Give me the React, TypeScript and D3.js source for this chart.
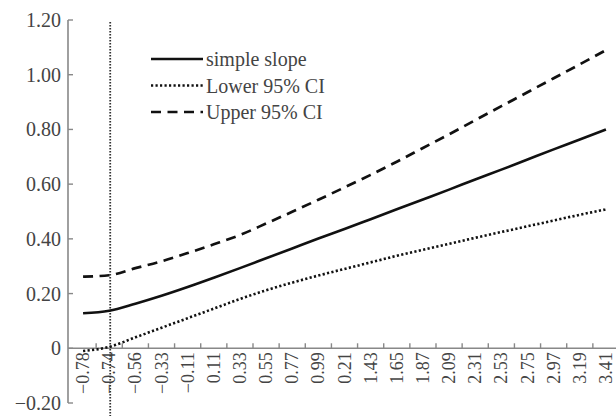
import React, { useEffect, useRef } from 'react';
import * as d3 from 'd3';

// moderator values (as printed on the x axis, "0.21" typo kept)
const categories = [
  '−0.78', '−0.74', '−0.56', '−0.33', '−0.11', '0.11', '0.33', '0.55', '0.77', '0.99',
  '0.21', '1.43', '1.65', '1.87', '2.09', '2.31', '2.53', '2.75', '2.97', '3.19', '3.41',
];
const simpleSlope = [
  0.128, 0.137, 0.163, 0.192, 0.224, 0.258, 0.293, 0.329, 0.365, 0.401, 0.436,
  0.472, 0.508, 0.544, 0.58, 0.617, 0.653, 0.69, 0.727, 0.763, 0.8,
];
const lowerCI = [
  -0.01, 0.005, 0.04, 0.075, 0.11, 0.145, 0.18, 0.212, 0.24, 0.266, 0.29,
  0.314, 0.338, 0.36, 0.382, 0.404, 0.425, 0.446, 0.467, 0.488, 0.508,
];
const upperCI = [
  0.262, 0.267, 0.293, 0.318, 0.348, 0.38, 0.414, 0.456, 0.499, 0.543, 0.588,
  0.634, 0.682, 0.732, 0.782, 0.834, 0.885, 0.936, 0.987, 1.038, 1.09,
];
const yTicks = [-0.2, 0, 0.2, 0.4, 0.6, 0.8, 1.0, 1.2];
const jnPoint = '−0.74';

const width = 616;
const height = 416;
const font = '"Liberation Serif", "DejaVu Serif", serif';
const textColor = '#444';
const axisColor = '#888';

const series = [
  { name: 'simple slope', values: simpleSlope, dash: null, w: 2.6 },
  { name: 'Lower 95% CI', values: lowerCI, dash: '2.2,2.3', w: 2.6 },
  { name: 'Upper 95% CI', values: upperCI, dash: '10,6.5', w: 2.7 },
];

const App = () => {
  const ref = useRef<SVGSVGElement>(null);

  useEffect(() => {
    const svg = d3.select(ref.current);
    svg.selectAll('*').remove();

    const x = d3.scaleBand().domain(categories).range([70, 619]).padding(0);
    const y = d3.scaleLinear().domain([-0.2, 1.2]).range([403, 20]);
    const cx = (c: string) => (x(c) as number) + x.bandwidth() / 2;

    // y axis
    const y0 = 68;
    svg.append('line')
      .attr('x1', y0).attr('x2', y0)
      .attr('y1', y(1.2)).attr('y2', y(-0.2))
      .attr('stroke', axisColor).attr('stroke-width', 1.6);
    svg.selectAll('.ytick')
      .data(yTicks)
      .enter()
      .append('line')
      .attr('x1', y0).attr('x2', y0 + 5)
      .attr('y1', d => y(d)).attr('y2', d => y(d))
      .attr('stroke', axisColor).attr('stroke-width', 1.4);
    svg.selectAll('.ylab')
      .data(yTicks)
      .enter()
      .append('text')
      .attr('x', 61)
      .attr('y', d => y(d))
      .attr('text-anchor', 'end')
      .attr('dominant-baseline', 'central')
      .attr('font-family', font)
      .attr('font-size', 20)
      .attr('fill', textColor)
      .text(d => (d === 0 ? '0' : d3.format('.2f')(d)));

    // x axis at zero
    svg.append('line')
      .attr('x1', y0).attr('x2', width)
      .attr('y1', y(0)).attr('y2', y(0))
      .attr('stroke', axisColor).attr('stroke-width', 1.6);
    svg.selectAll('.xtick')
      .data(categories.slice(1))
      .enter()
      .append('line')
      .attr('x1', d => x(d) as number).attr('x2', d => x(d) as number)
      .attr('y1', y(0)).attr('y2', y(0) - 5)
      .attr('stroke', axisColor).attr('stroke-width', 1.4);
    svg.selectAll('.xlab')
      .data(categories)
      .enter()
      .append('text')
      .attr('transform', d => `translate(${cx(d)},${y(0) + 4}) rotate(-90)`)
      .attr('text-anchor', 'end')
      .attr('dominant-baseline', 'central')
      .attr('font-family', font)
      .attr('font-size', 18)
      .attr('fill', textColor)
      .text(d => d);

    // Johnson-Neyman line
    svg.append('line')
      .attr('x1', cx(jnPoint) + 1).attr('x2', cx(jnPoint) + 1)
      .attr('y1', 22).attr('y2', height)
      .attr('stroke', '#333').attr('stroke-width', 1.8)
      .attr('stroke-dasharray', '1.5,1.5');

    const line = d3.line<number>()
      .x((d, i) => cx(categories[i]))
      .y(d => y(d))
      .curve(d3.curveMonotoneX);

    series.forEach(s => {
      svg.append('path')
        .attr('d', line(s.values))
        .attr('fill', 'none')
        .attr('stroke', '#111')
        .attr('stroke-width', s.w)
        .attr('stroke-dasharray', s.dash);
    });

    // legend
    const leg = svg.append('g');
    series.forEach((s, i) => {
      const ly = 59 + i * 26.5;
      leg.append('line')
        .attr('x1', 151).attr('x2', 203)
        .attr('y1', ly).attr('y2', ly)
        .attr('stroke', '#111')
        .attr('stroke-width', s.w)
        .attr('stroke-dasharray', s.dash);
      leg.append('text')
        .attr('x', 206)
        .attr('y', ly)
        .attr('dominant-baseline', 'central')
        .attr('font-family', font)
        .attr('font-size', 20)
        .attr('fill', textColor)
        .text(s.name);
    });
  }, []);

  return (
    <svg
      ref={ref}
      width={width}
      height={height}
      style={{ position: 'absolute', left: 0, top: 0, background: '#fff' }}
    />
  );
};

export default App;
